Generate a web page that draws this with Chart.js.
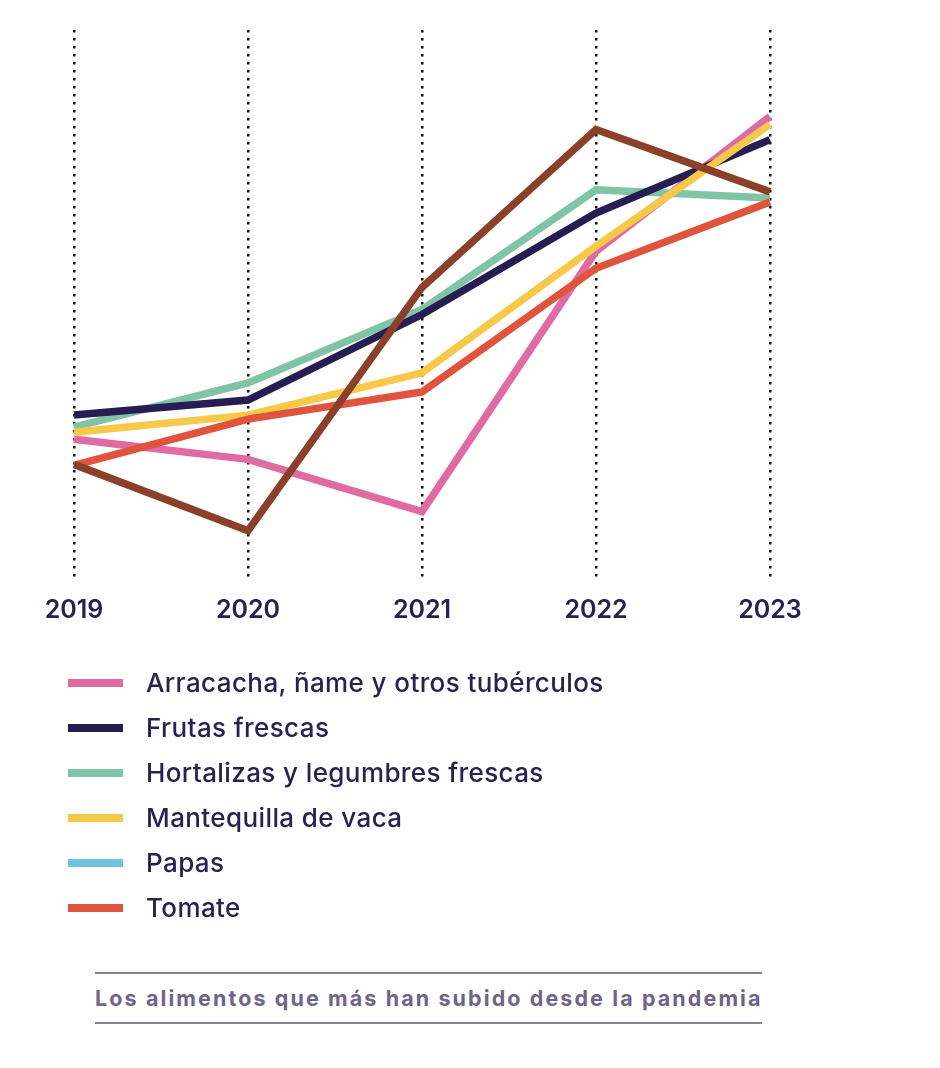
<!DOCTYPE html>
<html>
<head>
<meta charset="utf-8">
<script src="https://cdn.jsdelivr.net/npm/chart.js@4"></script>
<style>
  body { margin: 0; background: #fff; width: 940px; height: 1068px; position: relative; font-family: Inter, "Noto Sans", sans-serif; }
  #wrap { position: absolute; left: 0; top: 0; width: 940px; height: 662px; }
  #legend { position: absolute; left: 68px; top: 660px; }
  .row { display: flex; align-items: center; height: 45px; }
  .sw { width: 55px; height: 8px; margin-right: 23px; }
  .lbl { font-size: 26px; font-weight: 500; color: #2a2150; letter-spacing: 0.4px; }
  #foot { position: absolute; left: 95px; top: 972px; width: 667px; border-top: 2px solid #8a809f; border-bottom: 2px solid #8a809f; height: 48px; }
  #foot span { display: block; font-size: 21.5px; font-weight: 700; color: #6f6489; line-height: 48px; letter-spacing: 2.1px; white-space: nowrap; }
</style>
</head>
<body>
<div id="wrap"><canvas id="myChart"></canvas></div>
<div id="legend"></div>
<div id="foot"><span>Los alimentos que más han subido desde la pandemia</span></div>
<script>
// data (no y axis in the original, values are a relative index)
const years = ["2019", "2020", "2021", "2022", "2023"];
const names = ["Arracacha, ñame y otros tubérculos", "Frutas frescas", "Hortalizas y legumbres frescas", "Mantequilla de vaca", "Papas", "Tomate"];
const arracacha = [28.6, 24.6, 14.2, 66, 92.8];
const frutas = [33.4, 36.4, 53.4, 73.6, 88.2];
const hortalizas = [31, 39.8, 54.4, 78.2, 76.6];
const mantequilla = [30, 33.4, 41.8, 67, 91.2];
const papas = [23.6, 10.4, 58.8, 90.2, 77.8];
const tomate = [23.4, 32.6, 38, 62.6, 75.8];

// line colours (papas is drawn brown but the legend swatch is light blue)
const lineColors = ["#e06aa3", "#261d52", "#80c4a7", "#f7c948", "#8b4029", "#e0533c"];
const legendColors = ["#e06aa3", "#261d52", "#80c4a7", "#f7c948", "#6fc3df", "#e0533c"];
const series = [arracacha, frutas, hortalizas, mantequilla, papas, tomate];

// drawing order: back to front
const order = [4, 5, 3, 1, 2, 0];

const datasets = order.map((i) => ({
  label: names[i],
  data: series[i],
  borderColor: lineColors[i],
  backgroundColor: lineColors[i],
  borderWidth: 7.5,
  pointRadius: 0,
  tension: 0,
  clip: false,
}));

// html legend
const legend = document.getElementById("legend");
names.forEach((n, i) => {
  legend.innerHTML += `<div class="row"><div class="sw" style="background:${legendColors[i]}"></div><div class="lbl">${n}</div></div>`;
});

const config = {
  type: "line",
  data: { labels: years, datasets: datasets },
  options: {
    responsive: true,
    maintainAspectRatio: false,
    animation: false,
    layout: { padding: { left: 74, right: 170, top: 30, bottom: 20 } },
    plugins: { legend: { display: false }, tooltip: { enabled: false } },
    scales: {
      x: {
        offset: false,
        grid: { color: "#111", lineWidth: 2.5, drawTicks: false },
        border: { display: false, dash: [2.5, 5.5] },
        ticks: {
          color: "#2a2150",
          padding: 17,
          font: { family: "Inter", size: 25, weight: 600 },
        },
      },
      y: {
        display: false,
        min: 1,
        max: 110,
      },
    },
  },
};
new Chart(document.getElementById("myChart"), config);
</script>
</body>
</html>
